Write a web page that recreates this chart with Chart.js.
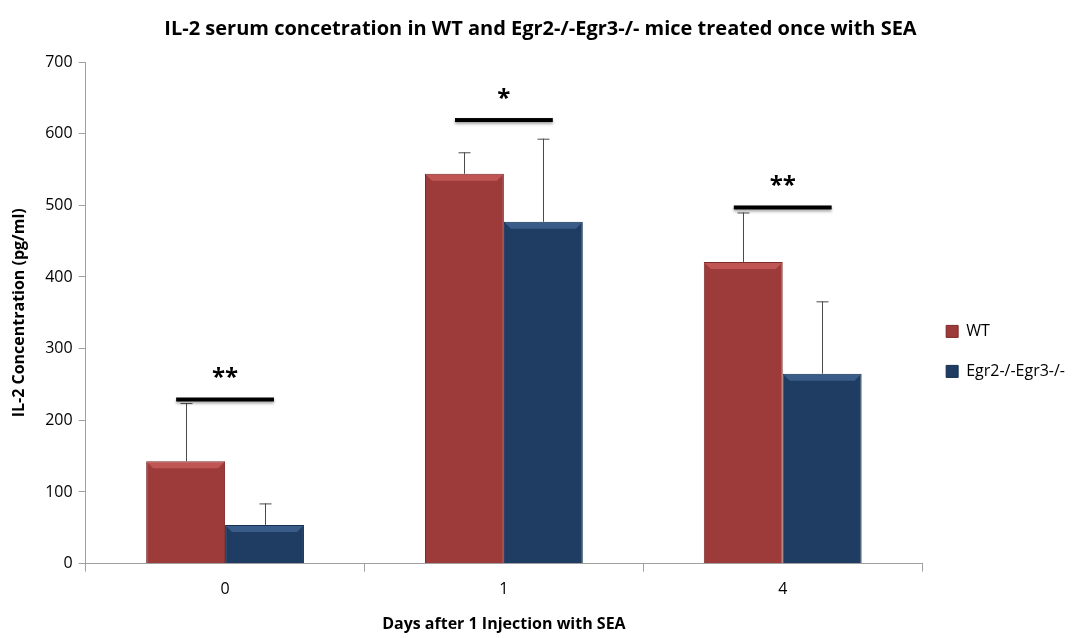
<!DOCTYPE html>
<html>
<head>
<meta charset="utf-8">
<script src="https://cdn.jsdelivr.net/npm/chart.js@4"></script>
<style>
  html, body { margin: 0; padding: 0; background: #fff; }
  #wrap { width: 1077px; height: 638px; }
</style>
</head>
<body>
<div id="wrap"><canvas id="il2-chart"></canvas></div>
<script>
// Data
const days = ['0', '1', '4'];
const wtMeans = [143, 544, 421];
const wtErr = [81, 30, 69];
const egrMeans = [54, 477, 265];
const egrErr = [30, 116, 101];
const sigLevels = [229, 619, 497];
const sigLabels = ['**', '*', '**'];
const yTicks = [0, 100, 200, 300, 400, 500, 600, 700];

const fontFamily = "'Open Sans', 'Noto Sans', sans-serif";

// one-sided (upper) error bars with caps
const errorBars = {
    id: 'errorBars',
    afterDatasetsDraw(chart) {
        const ctx = chart.ctx;
        const y = chart.scales.y;
        const errs = [wtErr, egrErr];
        ctx.save();
        ctx.strokeStyle = '#4a4a4a';
        ctx.lineWidth = 1;
        chart.data.datasets.forEach((ds, i) => {
            chart.getDatasetMeta(i).data.forEach((bar, j) => {
                const top = y.getPixelForValue(ds.data[j] + errs[i][j]);
                const x = Math.round(bar.x) + 0.5;
                ctx.beginPath();
                ctx.moveTo(x, bar.y);
                ctx.lineTo(x, top);
                ctx.moveTo(x - 6, top + 0.5);
                ctx.lineTo(x + 6, top + 0.5);
                ctx.stroke();
            });
        });
        ctx.restore();
    }
};

// light bevel along the top of every bar
const bevel = {
    id: 'bevel',
    afterDatasetsDraw(chart) {
        const ctx = chart.ctx;
        ctx.save();
        chart.data.datasets.forEach((ds, i) => {
            ctx.fillStyle = i === 0 ? 'rgba(235,120,115,0.45)' : 'rgba(90,130,185,0.45)';
            chart.getDatasetMeta(i).data.forEach(bar => {
                const l = bar.x - bar.width / 2 + 1, r = bar.x + bar.width / 2 - 1;
                ctx.beginPath();
                ctx.moveTo(l, bar.y + 1);
                ctx.lineTo(r, bar.y + 1);
                ctx.lineTo(r - 6, bar.y + 7);
                ctx.lineTo(l + 6, bar.y + 7);
                ctx.closePath();
                ctx.fill();
            });
        });
        ctx.restore();
    }
};

// significance bars and asterisks
const sigMarks = {
    id: 'sigMarks',
    afterDatasetsDraw(chart) {
        const ctx = chart.ctx;
        const x = chart.scales.x;
        const y = chart.scales.y;
        const half = chart.getDatasetMeta(0).data[0].width * 0.62;
        ctx.save();
        sigLevels.forEach((v, i) => {
            const cx = x.getPixelForValue(i);
            const py = y.getPixelForValue(v);
            ctx.shadowColor = 'rgba(0,0,0,0.35)';
            ctx.shadowBlur = 3;
            ctx.shadowOffsetY = 2;
            ctx.fillStyle = '#000';
            ctx.fillRect(cx - half, py - 2, half * 2, 4);
            ctx.shadowColor = 'transparent';
            ctx.font = "bold 24px " + fontFamily;
            ctx.textAlign = 'center';
            ctx.textBaseline = 'middle';
            ctx.fillText(sigLabels[i], cx, py - 21);
        });
        ctx.restore();
    }
};

const data = {
    labels: days,
    datasets: [{
        label: 'WT',
        data: wtMeans,
        backgroundColor: '#9d3b3a',
        borderColor: '#7d2b2a',
        borderWidth: 1
    }, {
        label: 'Egr2-/-Egr3-/-',
        data: egrMeans,
        backgroundColor: '#1f3d63',
        borderColor: '#16304f',
        borderWidth: 1
    }]
};

const ctx = document.getElementById('il2-chart').getContext('2d');
const il2Chart = new Chart(ctx, {
    type: 'bar',
    data,
    options: {
        responsive: true,
        maintainAspectRatio: false,
        animation: false,
        categoryPercentage: 0.566,
        barPercentage: 1.0,
        layout: { padding: { top: 10, right: 2, left: 6, bottom: 0 } },
        plugins: {
            title: {
                display: true,
                text: 'IL-2 serum concetration in WT and Egr2-/-Egr3-/- mice treated once with SEA',
                color: '#000',
                font: { family: fontFamily, size: 20, weight: 'bold' },
                padding: { top: 7, bottom: 21 }
            },
            legend: {
                position: 'right',
                title: { display: true, text: ' ', padding: { top: 50, bottom: 0 }, font: { size: 4 } },
                labels: {
                    color: '#000',
                    boxWidth: 12,
                    boxHeight: 12,
                    padding: 24,
                    font: { family: fontFamily, size: 16 }
                }
            },
            tooltip: { enabled: false }
        },
        scales: {
            x: {
                grid: { drawOnChartArea: false, drawTicks: true, tickLength: 8, color: '#a0a0a0', offset: true },
                border: { color: '#a0a0a0' },
                ticks: { color: '#000', font: { family: fontFamily, size: 16 }, padding: 8 },
                title: {
                    display: true,
                    text: 'Days after 1 Injection with SEA',
                    color: '#000',
                    font: { family: fontFamily, size: 16, weight: 'bold' },
                    padding: { top: 8 }
                }
            },
            y: {
                min: 0,
                max: 700,
                afterBuildTicks: axis => { axis.ticks = yTicks.map(v => ({ value: v })); },
                grid: { drawOnChartArea: false, drawTicks: true, tickLength: 7, color: '#a0a0a0' },
                border: { color: '#a0a0a0' },
                ticks: { color: '#000', font: { family: fontFamily, size: 16 }, padding: 6 },
                title: {
                    display: true,
                    text: 'IL-2 Concentration (pg/ml)',
                    color: '#000',
                    font: { family: fontFamily, size: 16, weight: 'bold' },
                    padding: { bottom: 10 }
                }
            }
        }
    },
    plugins: [bevel, errorBars, sigMarks]
});
</script>
</body>
</html>
